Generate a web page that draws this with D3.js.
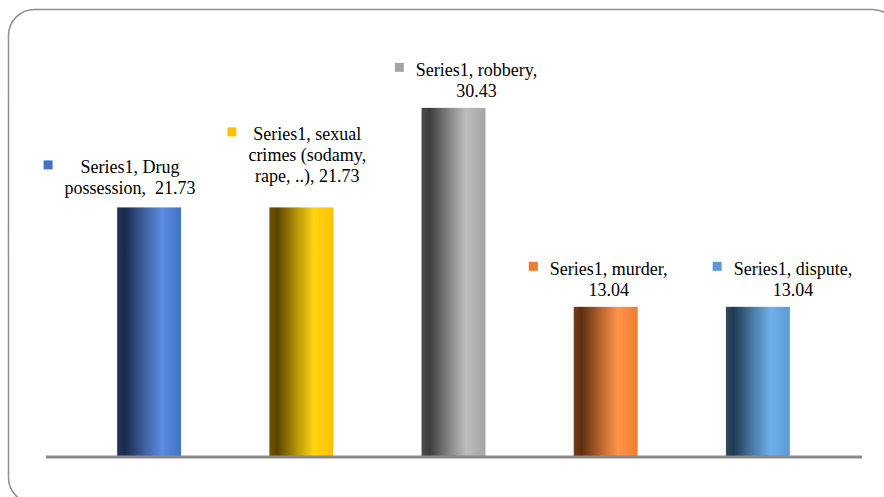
<!DOCTYPE html>
<html>
<head>
<meta charset="utf-8">
<script src="https://cdn.jsdelivr.net/npm/d3@7"></script>
<style>
  html, body { margin: 0; padding: 0; background: #fff; }
  svg { display: block; }
  .lbl { font-family: "Liberation Serif", "Times New Roman", "Tinos", serif; font-size: 18px; fill: #000; white-space: pre; }
</style>
</head>
<body>
<svg id="chart" width="884" height="497"></svg>
<script>
// ---- data ----
const seriesName = "Series1";
const categories = ["Drug possession", "sexual crimes (sodamy, rape, ..)", "robbery", "murder", "dispute"];
const values = [21.73, 21.73, 30.43, 13.04, 13.04];
// label text as wrapped in the reference
const labelLines = [
  ["Series1, Drug", "possession,  21.73"],
  ["Series1, sexual", "crimes (sodamy,", "rape, ..), 21.73"],
  ["Series1, robbery,", "30.43"],
  ["Series1, murder,", "13.04"],
  ["Series1, dispute,", "13.04"]
];

// ---- styling / layout ----
const baseColors = ["#4472C4", "#FFC000", "#A5A5A5", "#ED7D31", "#5B9BD5"];
const darkColors = ["#1b2a4c", "#5a4200", "#3c3c3c", "#5e2e0f", "#213a52"];
const lightColors = ["#5a8ce2", "#ffd512", "#bdbdbd", "#ff9448", "#6cb0ec"];
const labelDx = [-19, 6, 23, 3, 35];      // label centre offset from bar centre
const labelGap = [13, 25, 11, 11, 11];    // last baseline distance above bar top

const svg = d3.select("#chart");

// outer rounded frame
svg.append("rect")
  .attr("x", 8.5).attr("y", 9.5)
  .attr("width", 890).attr("height", 494)
  .attr("rx", 26).attr("ry", 26)
  .attr("fill", "#fff")
  .attr("stroke", "#8f8f8f")
  .attr("stroke-width", 1.5);

const x = d3.scaleBand()
  .domain(categories)
  .range([73, 834])
  .paddingInner(0.58)
  .paddingOuter(0.29);

const y = d3.scaleLinear()
  .domain([0, 35])
  .range([456, 55.6]);

// gradients
const defs = svg.append("defs");
categories.forEach((c, i) => {
  const g = defs.append("linearGradient")
    .attr("id", "grad" + i)
    .attr("x1", "0%").attr("x2", "100%")
    .attr("y1", "0%").attr("y2", "0%");
  g.append("stop").attr("offset", "0%").attr("stop-color", d3.interpolateRgb(darkColors[i], baseColors[i])(0.15));
  g.append("stop").attr("offset", "12%").attr("stop-color", darkColors[i]);
  g.append("stop").attr("offset", "45%").attr("stop-color", d3.interpolateRgb(darkColors[i], lightColors[i])(0.6));
  g.append("stop").attr("offset", "70%").attr("stop-color", lightColors[i]);
  g.append("stop").attr("offset", "100%").attr("stop-color", baseColors[i]);
});

// bars
svg.append("g")
  .selectAll("rect")
  .data(values)
  .join("rect")
  .attr("x", (d, i) => x(categories[i]))
  .attr("y", d => y(d))
  .attr("width", x.bandwidth())
  .attr("height", d => y(0) - y(d))
  .attr("fill", (d, i) => `url(#grad${i})`);

// category axis line
svg.append("line")
  .attr("x1", 46).attr("x2", 862)
  .attr("y1", y(0) + 1).attr("y2", y(0) + 1)
  .attr("stroke", "#8a8a8a")
  .attr("stroke-width", 3);

// data labels
const lineH = 21;
const labels = svg.append("g");

values.forEach((v, i) => {
  const cx = x(categories[i]) + x.bandwidth() / 2 + labelDx[i];
  const lines = labelLines[i];
  const lastBase = y(v) - labelGap[i];
  const firstBase = lastBase - (lines.length - 1) * lineH;
  const t = labels.append("text")
    .attr("class", "lbl")
    .attr("text-anchor", "middle");
  lines.forEach((ln, k) => {
    t.append("tspan")
      .attr("x", cx)
      .attr("y", firstBase + k * lineH)
      .text(ln);
  });
  let maxW = 0;
  t.selectAll("tspan").each(function () {
    maxW = Math.max(maxW, this.getComputedTextLength());
  });
  const left = cx - maxW / 2;
  labels.append("rect")
    .attr("x", left - 21)
    .attr("y", firstBase - 13)
    .attr("width", 9)
    .attr("height", 9)
    .attr("fill", baseColors[i]);
});
</script>
</body>
</html>
